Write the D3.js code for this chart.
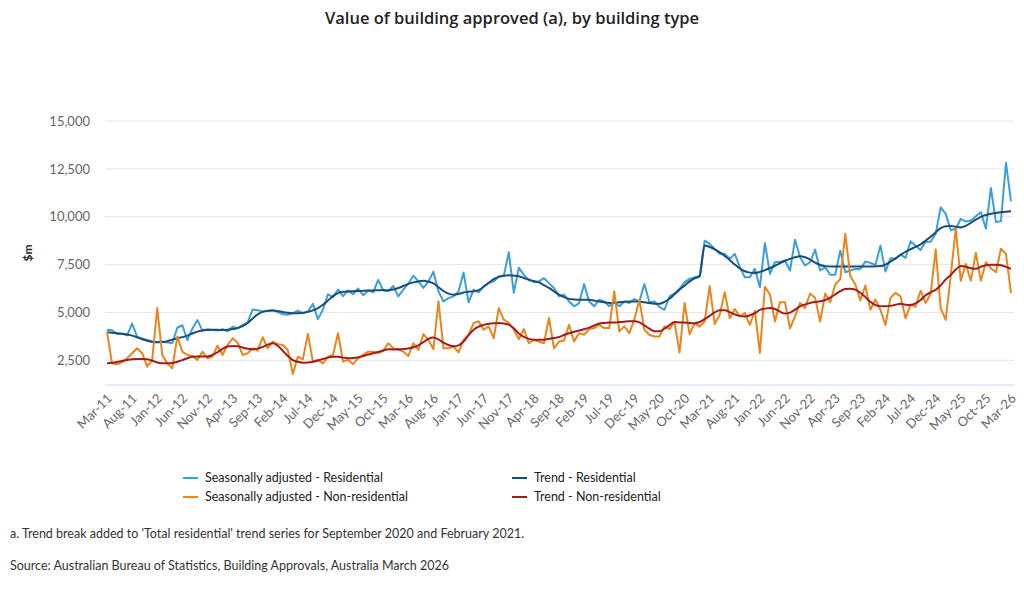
<!DOCTYPE html>
<html lang="en">
<head>
    <meta charset="UTF-8">
    <title>Value of building approved</title>
    <script src="https://d3js.org/d3.v7.min.js"></script>
    <style>
        body { margin: 0; background: #fff; }
        svg { font-family: Lato, "Liberation Sans", sans-serif; }
    </style>
</head>
<body>
    <svg width="1024" height="590"></svg>
    <script>
        // monthly categories, Mar-11 .. Mar-26
        const months = d3.timeMonth.range(new Date(2011, 2, 1), new Date(2026, 3, 1))
            .map(d3.timeFormat('%b-%y'));

        const tickLabels = ['Mar-11', 'Aug-11', 'Jan-12', 'Jun-12', 'Nov-12', 'Apr-13', 'Sep-13', 'Feb-14',
            'Jul-14', 'Dec-14', 'May-15', 'Oct-15', 'Mar-16', 'Aug-16', 'Jan-17', 'Jun-17', 'Nov-17',
            'Apr-18', 'Sep-18', 'Feb-19', 'Jul-19', 'Dec-19', 'May-20', 'Oct-20', 'Mar-21', 'Aug-21',
            'Jan-22', 'Jun-22', 'Nov-22', 'Apr-23', 'Sep-23', 'Feb-24', 'Jul-24', 'Dec-24', 'May-25',
            'Oct-25', 'Mar-26'];

        const yTicks = [2500, 5000, 7500, 10000, 12500, 15000];

        // $m
        const saResidential = [
            4100, 4070, 3880, 3900, 3800, 4420, 3720, 3640, 3560, 3500,
            3450, 3480, 3430, 3400, 4200, 4330, 3560, 4150, 4600, 4050,
            4120, 4080, 4060, 4130, 4020, 4250, 4180, 4350, 4480, 5150,
            5120, 5050, 5080, 5120, 5020, 4900, 4880, 4950, 5100, 4950,
            5050, 5450, 4650, 5150, 5950, 5800, 6200, 5850, 6150, 5950,
            6250, 5900, 6150, 6050, 6700, 6150, 6100, 6380, 5840, 6190,
            6500, 6920, 6620, 6280, 6620, 7130, 6100, 5575, 5750, 5840,
            6100, 7080, 5530, 6190, 6050, 6360, 6530, 6620, 6880, 6900,
            8140, 6020, 7340, 6960, 6715, 6580, 6620, 6790, 6530, 6280,
            5840, 5930, 5575, 5320, 5490, 6480, 5575, 5320, 5665, 5575,
            5320, 5530, 5320, 5575, 5490, 5700, 5575, 6480, 5530, 5575,
            5285, 5140, 5840, 6000, 6235, 6580, 6755, 6840, 6900, 8750,
            8580, 8320, 8060, 8060, 7800, 8060, 7365, 6840, 6840, 7275,
            6320, 8630, 7015, 7625, 7650, 7710, 7190, 8800, 7885, 7450,
            7625, 8280, 7190, 7365, 6965, 6965, 8230, 7100, 7190, 7275,
            7275, 7660, 7590, 7480, 8490, 7135, 7830, 7800, 8030, 7850,
            8720, 8480, 8260, 8690, 8690, 9115, 10490, 10150, 9290, 9375,
            9890, 9750, 9800, 10020, 10230, 9380, 11500, 9720, 9770, 12820,
            10800];

        const trendResidential = [
            3970, 3940, 3910, 3880, 3850, 3790, 3700, 3600, 3520, 3460,
            3440, 3450, 3500, 3580, 3650, 3710, 3790, 3900, 4000, 4060,
            4080, 4090, 4090, 4080, 4090, 4130, 4180, 4280, 4450, 4680,
            4900, 5030, 5090, 5100, 5080, 5020, 4980, 4960, 4960, 4980,
            5030, 5110, 5230, 5400, 5620, 5850, 6010, 6080, 6100, 6110,
            6120, 6130, 6140, 6150, 6160, 6170, 6160, 6200, 6280, 6380,
            6490, 6570, 6620, 6650, 6600, 6520, 6320, 6120, 5980, 5930,
            5960, 6040, 6080, 6100, 6170, 6340, 6550, 6740, 6860, 6920,
            6940, 6920, 6890, 6800, 6710, 6640, 6570, 6430, 6280, 6100,
            5930, 5800, 5710, 5680, 5665, 5665, 5665, 5620, 5575, 5530,
            5490, 5500, 5530, 5560, 5575, 5575, 5575, 5530, 5490, 5460,
            5455, 5550, 5715, 5950, 6190, 6400, 6620, 6780, 6890, 8500,
            8420, 8300, 8140, 7950, 7740, 7500, 7300, 7150, 7080, 7060,
            7120, 7210, 7320, 7440, 7570, 7700, 7800, 7880, 7930, 7880,
            7760, 7600, 7480, 7420, 7400, 7400, 7400, 7400, 7400, 7400,
            7400, 7400, 7400, 7410, 7420, 7500, 7650, 7820, 8000, 8170,
            8300, 8420, 8560, 8750, 8950, 9180, 9400, 9500, 9520, 9480,
            9440, 9520, 9680, 9850, 9990, 10090, 10150, 10200, 10230, 10260,
            10280];

        const saNonResidential = [
            4000, 2340, 2290, 2390, 2605, 2870, 3130, 2870, 2165, 2520,
            5230, 2780, 2340, 2080, 3740, 2950, 2780, 2725, 2520, 2950,
            2605, 2690, 3270, 2780, 3300, 3650, 3420, 2780, 2870, 3130,
            3005, 3705, 3130, 3480, 3340, 3300, 3040, 1780, 2690, 2550,
            3880, 2430, 2520, 2340, 2690, 2780, 3915, 2430, 2520, 2305,
            2605, 2780, 2950, 2950, 2870, 3000, 3390, 3130, 3043, 2955,
            2727, 3392, 3043, 3870, 3567, 3078, 5580, 3130, 3130, 3217,
            2920, 3567, 3834, 4447, 4534, 4097, 4272, 3654, 5230, 4622,
            4447, 4097, 3602, 4132, 3392, 3567, 3480, 3392, 4709, 3130,
            3480, 3532, 4360, 3480, 3922, 3834, 4132, 4185, 4360, 4185,
            4185, 6104, 4010, 4272, 3922, 4622, 5667, 4097, 3834, 3747,
            3747, 4272, 4132, 4500, 2900, 5495, 3860, 4440, 4260, 4525,
            6375, 4400, 4880, 6060, 4700, 5180, 4790, 4970, 4350, 5090,
            2885, 6340, 5935, 4525, 5530, 5530, 4175, 4790, 5495, 5230,
            5990, 5760, 4525, 5990, 5530, 6465, 6730, 9110, 6900, 6465,
            5630, 6410, 5140, 5670, 5140, 4350, 5760, 6025, 5845, 4700,
            5410, 5295, 6135, 5490, 5960, 8290, 5210, 4615, 6925, 9375,
            6660, 7535, 6660, 8115, 6660, 7625, 7310, 7100, 8325, 8060,
            6015];

        const trendNonResidential = [
            2343, 2370, 2410, 2460, 2520, 2560, 2570, 2570, 2560, 2480,
            2390, 2350, 2343, 2360, 2420, 2510, 2610, 2680, 2700, 2700,
            2700, 2780, 2920, 3100, 3220, 3250, 3240, 3170, 3100, 3080,
            3110, 3200, 3320, 3390, 3260, 3000, 2720, 2515, 2420, 2375,
            2390, 2430, 2490, 2570, 2640, 2690, 2680, 2640, 2610, 2620,
            2655, 2720, 2800, 2870, 2940, 3010, 3075, 3070, 3075, 3090,
            3120, 3180, 3280, 3450, 3620, 3690, 3590, 3420, 3300, 3230,
            3280, 3480, 3820, 4100, 4260, 4350, 4410, 4440, 4450, 4420,
            4360, 4180, 3900, 3720, 3620, 3580, 3570, 3580, 3610, 3660,
            3720, 3820, 3910, 3990, 4060, 4120, 4210, 4320, 4420, 4450,
            4470, 4480, 4500, 4520, 4534, 4534, 4480, 4320, 4150, 4020,
            4020, 4150, 4340, 4500, 4480, 4470, 4450, 4440, 4500, 4650,
            4820, 5000, 5120, 5120, 5020, 4900, 4820, 4790, 4850, 4960,
            5130, 5200, 5230, 5180, 5040, 4940, 4990, 5150, 5320, 5420,
            5495, 5540, 5580, 5650, 5780, 5940, 6110, 6230, 6240, 6190,
            6030, 5800, 5560, 5380, 5330, 5320, 5350, 5400, 5450, 5400,
            5390, 5470, 5650, 5900, 6050, 6180, 6420, 6720, 6960, 7240,
            7420, 7390, 7310, 7280, 7380, 7470, 7490, 7490, 7460, 7380,
            7275];

        const series = [
            { name: 'Seasonally adjusted - Residential', values: saResidential, color: '#3d9fd8', trend: false },
            { name: 'Trend - Residential', values: trendResidential, color: '#1b4d78', trend: true },
            { name: 'Seasonally adjusted - Non-residential', values: saNonResidential, color: '#e8861c', trend: false },
            { name: 'Trend - Non-residential', values: trendNonResidential, color: '#a11d1d', trend: true }
        ];

        const svg = d3.select('svg');
        const plotLeft = 105, plotRight = 1014, plotTop = 121, plotBottom = 385;

        const x = d3.scalePoint().domain(months).range([107, 1011]);
        const y = d3.scaleLinear().domain([1210, 15000]).range([plotBottom, plotTop]);

        // title
        svg.append('text')
            .attr('x', 512).attr('y', 24)
            .attr('text-anchor', 'middle')
            .style('font-family', '"Open Sans", sans-serif')
            .style('font-size', '16.5px').style('font-weight', 600).style('fill', '#222')
            .text('Value of building approved (a), by building type');

        // gridlines
        svg.append('g').selectAll('line')
            .data(yTicks)
            .join('line')
            .attr('x1', plotLeft).attr('x2', plotRight)
            .attr('y1', d => y(d)).attr('y2', d => y(d))
            .attr('stroke', '#e6e6e6');

        svg.append('line')
            .attr('x1', plotLeft).attr('x2', plotRight)
            .attr('y1', plotBottom).attr('y2', plotBottom)
            .attr('stroke', '#ccd6eb');

        // y axis
        const yAxis = svg.append('g')
            .attr('transform', `translate(${plotLeft},0)`)
            .call(d3.axisLeft(y).tickValues(yTicks).tickFormat(d3.format(',')).tickSize(0).tickPadding(15));
        yAxis.select('.domain').remove();
        yAxis.selectAll('text').style('font-size', '13px').style('fill', '#666').style('font-family', 'Lato, sans-serif');

        svg.append('text')
            .attr('transform', 'translate(32,253) rotate(-90)')
            .attr('text-anchor', 'middle')
            .style('font-size', '12px').style('font-weight', 700).style('fill', '#222')
            .text('$m');

        // x axis
        const xAxis = svg.append('g')
            .attr('transform', `translate(0,${plotBottom})`)
            .call(d3.axisBottom(x).tickValues(tickLabels).tickSize(0));
        xAxis.select('.domain').remove();
        xAxis.selectAll('text')
            .attr('x', 0).attr('y', 0).attr('dy', '0.35em')
            .attr('transform', 'translate(2,11) rotate(-45)')
            .style('text-anchor', 'end')
            .style('font-size', '13px').style('fill', '#666').style('font-family', 'Lato, sans-serif');

        // lines
        series.forEach(s => {
            const line = d3.line()
                .x((d, i) => x(months[i]))
                .y(d => y(d))
                .curve(s.trend ? d3.curveMonotoneX : d3.curveLinear);
            svg.append('path')
                .datum(s.values)
                .attr('fill', 'none')
                .attr('stroke', s.color)
                .attr('stroke-width', 2)
                .attr('stroke-linejoin', 'round')
                .attr('d', line);
        });

        // legend, two columns
        const legend = svg.append('g');
        const legendPos = [[183, 478], [512, 478], [183, 497], [512, 497]];
        series.forEach((s, i) => {
            const [lx, ly] = legendPos[i];
            legend.append('line')
                .attr('x1', lx).attr('x2', lx + 15)
                .attr('y1', ly).attr('y2', ly)
                .attr('stroke', s.color).attr('stroke-width', 2);
            legend.append('text')
                .attr('x', lx + 22).attr('y', ly).attr('dy', '0.35em')
                .style('font-size', '12.5px').style('fill', '#222')
                .text(s.name);
        });

        // notes
        svg.append('text')
            .attr('x', 10).attr('y', 538)
            .style('font-size', '12.5px').style('fill', '#333')
            .text("a. Trend break added to 'Total residential' trend series for September 2020 and February 2021.");
        svg.append('text')
            .attr('x', 10).attr('y', 570)
            .style('font-size', '12.5px').style('fill', '#333')
            .text('Source: Australian Bureau of Statistics, Building Approvals, Australia March 2026');
    </script>
</body>
</html>
